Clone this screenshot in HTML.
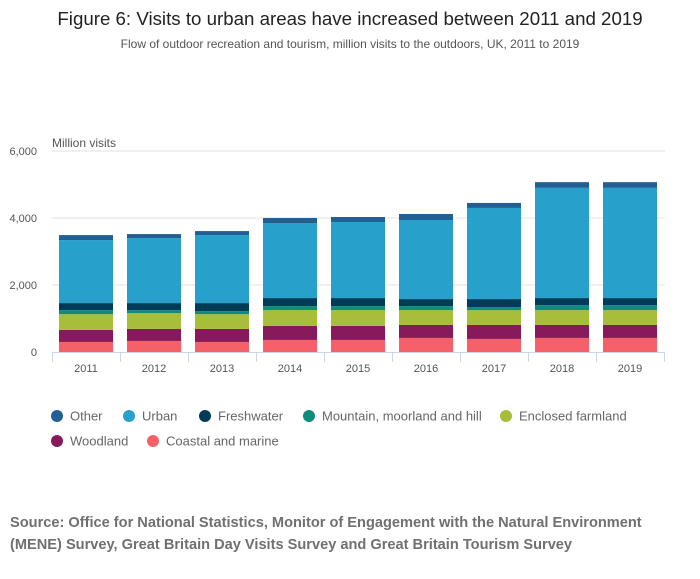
<!DOCTYPE html>
<html><head><meta charset="utf-8"><style>
body{margin:0;width:700px;height:574px;background:#fff;font-family:"Liberation Sans",sans-serif;overflow:hidden}
</style></head><body>
<svg width="700" height="574" id="svg">
<text x="350" y="25" text-anchor="middle" font-size="18.7" fill="#222">Figure 6: Visits to urban areas have increased between 2011 and 2019</text>
<text x="350" y="48" text-anchor="middle" font-size="12" fill="#555">Flow of outdoor recreation and tourism, million visits to the outdoors, UK, 2011 to 2019</text>
<text x="52" y="147" font-size="12" fill="#555">Million visits</text>
<g id="grid"></g><g id="bars"></g><g id="axis"></g><g id="legend"></g>
<text x="10" y="527" font-size="14.6" font-weight="bold" fill="#707070">Source: Office for National Statistics, Monitor of Engagement with the Natural Environment</text>
<text x="10" y="549" font-size="14.6" font-weight="bold" fill="#707070">(MENE) Survey, Great Britain Day Visits Survey and Great Britain Tourism Survey</text>
</svg>
<script>
const years=["2011","2012","2013","2014","2015","2016","2017","2018","2019"];
const seriesNames=["Coastal and marine","Woodland","Enclosed farmland","Mountain, moorland and hill","Freshwater","Urban","Other"];
const coastal=[300,330,300,360,360,420,390,420,420];
const woodland=[360,360,390,420,420,390,420,390,390];
const farmland=[470,470,440,470,470,440,440,440,440];
const mountain=[120,90,90,120,120,120,90,150,150];
const freshwater=[210,210,240,240,240,210,240,210,210];
const urban=[1880,1940,2030,2240,2270,2360,2720,3290,3290];
const other=[150,120,120,150,150,180,150,170,170];
const yTicks=[0,2000,4000,6000];
const yTickLabels=["0","2,000","4,000","6,000"];
const colors=["#f66068","#871a5b","#a8bd3a","#118c7b","#003c57","#27a0cc","#206095"];
const series=[coastal,woodland,farmland,mountain,freshwater,urban,other];
const NS="http://www.w3.org/2000/svg";
const x0=52,step=68,y0=352,ppu=67/2000;
const y=v=>y0-v*ppu;
function mk(tag,attrs,parent){const e=document.createElementNS(NS,tag);for(const k in attrs)e.setAttribute(k,attrs[k]);parent.appendChild(e);return e;}
const grid=document.getElementById('grid'),bars=document.getElementById('bars'),axis=document.getElementById('axis'),legend=document.getElementById('legend');
yTicks.forEach((t,i)=>{
  if(t>0){const l=mk('line',{x1:x0,x2:665,y1:y(t),y2:y(t),stroke:'#e0e0e0'},grid);
  
  }
  const tx=mk('text',{x:37,y:y(t)+4,'text-anchor':'end','font-size':11,fill:'#555'},axis);
  tx.textContent=yTickLabels[i];
  
  
});
years.forEach((yr,i)=>{
  let cum=0;
  series.forEach((s,j)=>{
    const v=s[i];
    const r=mk('rect',{x:x0+i*step+7,width:54,y:y(cum+v),height:v*ppu,fill:colors[j]},bars);
    
    
    cum+=v;
  });
  const t=mk('text',{x:x0+i*step+34,y:372,'text-anchor':'middle','font-size':11,fill:'#555'},axis);
  t.textContent=yr;
  
  
});
const ax=mk('line',{x1:x0,x2:x0+9*step,y1:352.5,y2:352.5,stroke:'#ccd6e6'},axis);


for(let i=0;i<=9;i++){const tk=mk('line',{x1:x0+i*step+.5,x2:x0+i*step+.5,y1:352,y2:362,stroke:'#ccd6e6'},axis);

}
const leg=[[6,57,416],[5,129,416],[4,205,416],[3,309,416],[2,506,416],[1,57,441],[0,153,441]];
leg.forEach(([j,lx,ly])=>{
  const g=mk('g',{},legend);
  
  
  mk('circle',{cx:lx,cy:ly,r:6,fill:colors[j]},g);
  const t=mk('text',{x:lx+13,y:ly+4.5,'font-size':13,fill:'#666'},g);
  t.textContent=j==6?"Other":seriesNames[j];
});
</script>
</body></html>
